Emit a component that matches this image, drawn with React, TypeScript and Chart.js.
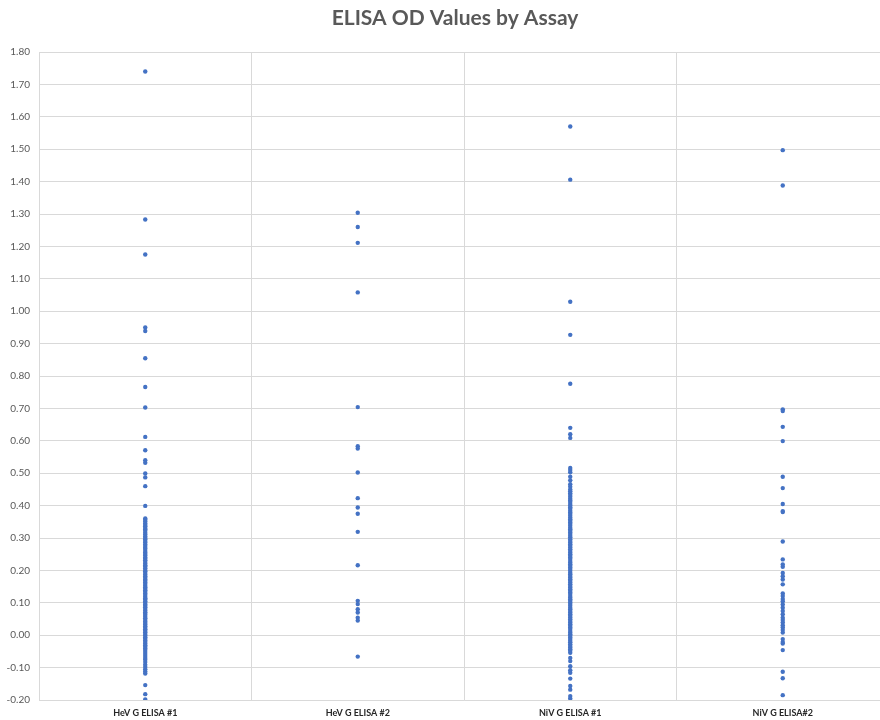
import React, { useEffect, useRef } from "react";
import { Chart, registerables } from "chart.js";

Chart.register(...registerables);

const TITLE = "ELISA OD Values by Assay";
const CATEGORIES = ["HeV G ELISA #1", "HeV G ELISA #2", "NiV G ELISA #1", "NiV G ELISA#2"];

const HEV1 = [
  1.74, 1.283, 1.175, 0.95, 0.939, 0.855, 0.766, 0.703, 0.612, 0.571, 0.54, 0.532, 0.499, 0.487, 0.46, 0.399,
  0.36, 0.356, 0.351, 0.345, 0.34, 0.336, 0.331, 0.327, 0.322, 0.316, 0.311, 0.305, 0.3, 0.296, 0.291, 0.286,
  0.28, 0.275, 0.27, 0.266, 0.26, 0.255, 0.251, 0.246, 0.24, 0.236, 0.231, 0.226, 0.221, 0.216, 0.212, 0.207,
  0.201, 0.197, 0.192, 0.187, 0.182, 0.177, 0.172, 0.168, 0.163, 0.158, 0.153, 0.148, 0.143, 0.139, 0.134,
  0.129, 0.124, 0.119, 0.114, 0.11, 0.105, 0.1, 0.095, 0.091, 0.086, 0.081, 0.076, 0.071, 0.066, 0.062, 0.057,
  0.052, 0.047, 0.042, 0.038, 0.033, 0.028, 0.023, 0.018, 0.014, 0.009, 0.004, -0.001, -0.006, -0.011, -0.016,
  -0.021, -0.026, -0.031, -0.036, -0.041, -0.046, -0.052, -0.058, -0.064, -0.07, -0.076, -0.083, -0.091,
  -0.098, -0.105, -0.112, -0.118, -0.154, -0.182, -0.198,
];

const HEV2 = [
  1.304, 1.26, 1.211, 1.058, 0.704, 0.583, 0.576, 0.502, 0.423, 0.394, 0.375, 0.319, 0.216, 0.106, 0.096,
  0.08, 0.07, 0.054, 0.045, -0.066,
];

const NIV1 = [
  1.57, 1.406, 1.029, 0.927, 0.776, 0.64, 0.62, 0.609, 0.516, 0.51, 0.503, 0.489, 0.478, 0.466, 0.458, 0.45,
  0.444, 0.438, 0.433, 0.427, 0.421, 0.416, 0.411, 0.405, 0.4, 0.395, 0.39, 0.384, 0.379, 0.374, 0.369, 0.363,
  0.358, 0.353, 0.348, 0.343, 0.338, 0.332, 0.327, 0.322, 0.317, 0.312, 0.307, 0.302, 0.296, 0.291, 0.286,
  0.281, 0.276, 0.271, 0.265, 0.26, 0.255, 0.25, 0.245, 0.24, 0.235, 0.229, 0.224, 0.219, 0.214, 0.209, 0.204,
  0.199, 0.193, 0.188, 0.183, 0.178, 0.173, 0.168, 0.163, 0.157, 0.152, 0.147, 0.142, 0.137, 0.132, 0.127,
  0.121, 0.116, 0.111, 0.106, 0.101, 0.096, 0.091, 0.085, 0.08, 0.075, 0.07, 0.065, 0.06, 0.055, 0.049, 0.044,
  0.039, 0.034, 0.029, 0.024, 0.019, 0.013, 0.008, 0.003, -0.002, -0.007, -0.012, -0.017, -0.022, -0.028,
  -0.033, -0.038, -0.043, -0.048, -0.054, -0.07, -0.08, -0.096, -0.108, -0.116, -0.134, -0.157, -0.168,
  -0.188, -0.195,
];

const NIV2 = [
  1.497, 1.388, 0.697, 0.692, 0.643, 0.599, 0.489, 0.454, 0.405, 0.383, 0.38, 0.289, 0.234, 0.218, 0.211,
  0.192, 0.182, 0.172, 0.157, 0.129, 0.121, 0.112, 0.105, 0.095, 0.085, 0.075, 0.065, 0.054, 0.047, 0.039,
  0.031, 0.024, 0.016, 0.008, -0.012, -0.021, -0.026, -0.046, -0.113, -0.133, -0.185,
];

const SERIES = [HEV1, HEV2, NIV1, NIV2];

const Y_MIN = -0.2;
const Y_MAX = 1.8;
const Y_STEP = 0.1;

const GRID = "#d9d9d9";
const DOT = "#4472C4";
const FONT = "Lato, 'Open Sans', sans-serif";

export default function App() {
  const ref = useRef<HTMLCanvasElement | null>(null);

  useEffect(() => {
    if (!ref.current) return;
    const points: { x: string; y: number }[] = [];
    SERIES.forEach((vals, i) => {
      vals.forEach((v) => points.push({ x: CATEGORIES[i], y: v }));
    });

    const chart = new Chart(ref.current, {
      type: "scatter",
      data: {
        labels: CATEGORIES,
        datasets: [
          {
            label: "OD",
            data: points as any,
            backgroundColor: DOT,
            borderColor: DOT,
            borderWidth: 0,
            pointRadius: 2.2,
            pointHoverRadius: 2.2,
          },
        ],
      },
      options: {
        responsive: false,
        animation: false,
        layout: { padding: { left: 0, right: 0, top: 0, bottom: 0 } },
        plugins: {
          legend: { display: false },
          tooltip: { enabled: false },
          title: {
            display: true,
            text: TITLE,
            color: "#595959",
            font: { family: FONT, size: 21, weight: "bold" },
            padding: { top: 6, bottom: 20.8 },
          },
        },
        scales: {
          x: {
            type: "category",
            labels: CATEGORIES,
            offset: true,
            grid: { offset: true, color: GRID, lineWidth: 1, drawTicks: false },
            border: { display: true, color: GRID },
            ticks: {
              color: "#262626",
              font: { family: FONT, size: 9, weight: "bold" },
              padding: 8,
              maxRotation: 0,
              autoSkip: false,
            },
            afterFit: (s: any) => {
              s.height = 20;
            },
          },
          y: {
            type: "linear",
            position: "left",
            min: Y_MIN,
            max: Y_MAX,
            grid: { color: GRID, lineWidth: 1, drawTicks: false },
            border: { display: true, color: GRID },
            ticks: {
              stepSize: Y_STEP,
              color: "#595959",
              font: { family: FONT, size: 10 },
              padding: 9,
              callback: (v: any) => {
                const n = Number(v);
                return (Math.abs(n) < 1e-9 ? 0 : n).toFixed(2);
              },
            },
            afterFit: (s: any) => {
              s.width = 39;
            },
          },
          yRight: {
            type: "linear",
            position: "right",
            min: Y_MIN,
            max: Y_MAX,
            grid: { display: false, drawTicks: false },
            border: { display: false },
            ticks: { display: false },
            afterFit: (s: any) => {
              s.width = 21;
            },
          },
        },
      },
    });
    return () => chart.destroy();
  }, []);

  return (
    <div
      style={{
        position: "fixed",
        left: 0,
        top: 0,
        width: 880,
        height: 720,
        overflow: "hidden",
        background: "#ffffff",
      }}
    >
      <canvas ref={ref} width={910} height={720} style={{ display: "block" }} />
    </div>
  );
}
